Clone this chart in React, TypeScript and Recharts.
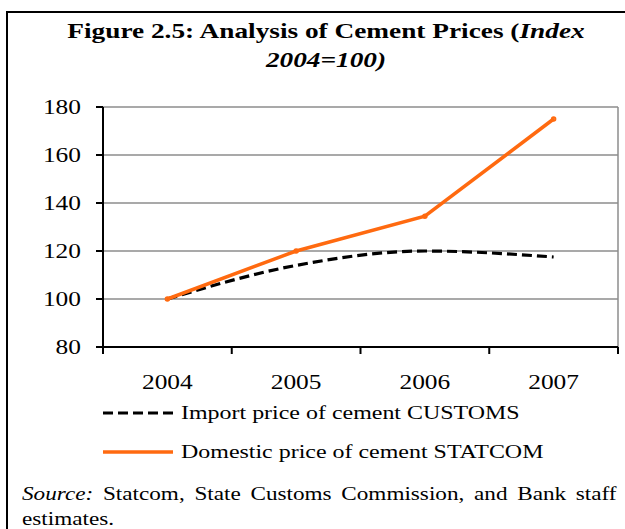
import { LineChart, Line, XAxis, YAxis, CartesianGrid } from "recharts";

const years = ["2004", "2005", "2006", "2007"];
const importPrice = [100, 114, 120, 117.5];
const domesticPrice = [100, 120, 134.5, 175];
const yTicks = [80, 100, 120, 140, 160, 180];

const data = years.map((year, i) => ({
  year,
  importPrice: importPrice[i],
  domesticPrice: domesticPrice[i],
}));

const FONT = '"Liberation Serif", "Times New Roman", serif';
const STRETCH = 1.27;

// the source image is stretched sideways, so labels get a horizontal scale around their anchor
const stretchAt = (x: number, y: number) =>
  `translate(${x},${y}) scale(${STRETCH},1) translate(${-x},${-y})`;

const YearTick = (props: any) => {
  const { x, y, payload, index, visibleTicksCount, width } = props;
  const half = width / visibleTicksCount / 2;
  const axisY = y - 8;
  return (
    <g>
      <line x1={x - half} x2={x - half} y1={axisY} y2={axisY + 7} stroke="#000" strokeWidth={2} />
      {index === visibleTicksCount - 1 && (
        <line x1={x + half} x2={x + half} y1={axisY} y2={axisY + 7} stroke="#000" strokeWidth={2} />
      )}
      <text
        x={x}
        y={y + 34}
        textAnchor="middle"
        fontFamily={FONT}
        fontSize={20}
        fill="#000"
        transform={stretchAt(x, y + 34)}
      >
        {payload.value}
      </text>
    </g>
  );
};

const ValueTick = (props: any) => {
  const { x, y, payload } = props;
  return (
    <text
      x={x}
      y={y + 7}
      textAnchor="end"
      fontFamily={FONT}
      fontSize={20}
      fill="#000"
      transform={stretchAt(x, y + 7)}
    >
      {payload.value}
    </text>
  );
};

const textStyle = (left: number, top: number, size: number, stretch: number): any => ({
  position: "absolute",
  left,
  top,
  fontSize: size,
  lineHeight: "24px",
  whiteSpace: "nowrap",
  transform: `scaleX(${stretch})`,
  transformOrigin: "0 0",
});

export default function App() {
  return (
    <div
      style={{
        position: "absolute",
        left: 0,
        top: 0,
        width: 625,
        height: 529,
        background: "#fff",
        overflow: "hidden",
        fontFamily: FONT,
        color: "#000",
      }}
    >
      <div
        style={{
          position: "absolute",
          left: 6,
          top: 11,
          width: 660,
          height: 580,
          border: "2px solid #000",
        }}
      />
      <div
        style={{
          position: "absolute",
          left: 6,
          top: 17,
          width: 640,
          textAlign: "center",
          fontWeight: "bold",
          fontSize: 21,
          lineHeight: "29px",
        }}
      >
        <div style={{ transform: "scaleX(1.3)", transformOrigin: "center" }}>
          Figure 2.5: Analysis of Cement Prices (<i>Index</i>
        </div>
        <div style={{ transform: "scaleX(1.3)", transformOrigin: "center" }}>
          <i>2004=100)</i>
        </div>
      </div>

      <div style={{ position: "absolute", left: 0, top: 0 }}>
        <LineChart
          width={625}
          height={400}
          data={data}
          margin={{ top: 107, right: 7, left: 0, bottom: 13 }}
        >
          <CartesianGrid
            horizontal={true}
            vertical={true}
            stroke="#8c8c8c"
            strokeWidth={1.5}
            verticalCoordinatesGenerator={({ offset }: any) => [offset.left + offset.width]}
          />
          <XAxis
            dataKey="year"
            scale="band"
            height={40}
            tickSize={6}
            tickMargin={2}
            tickLine={false}
            axisLine={{ stroke: "#000", strokeWidth: 2 }}
            tick={<YearTick />}
            interval={0}
          />
          <YAxis
            width={103}
            domain={[80, 180]}
            ticks={yTicks}
            interval={0}
            tickSize={7}
            tickMargin={15}
            axisLine={{ stroke: "#000", strokeWidth: 2 }}
            tickLine={{ stroke: "#000", strokeWidth: 2 }}
            tick={<ValueTick />}
          />
          <Line
            type="monotone"
            dataKey="importPrice"
            stroke="#000"
            strokeWidth={3.2}
            strokeDasharray="10 5"
            dot={false}
            isAnimationActive={false}
          />
          <Line
            type="linear"
            dataKey="domesticPrice"
            stroke="#ff6a10"
            strokeWidth={3.5}
            dot={{ r: 1, fill: "#ff6a10", stroke: "#ff6a10" }}
            isAnimationActive={false}
          />
        </LineChart>
      </div>

      <svg width={72} height={24} style={{ position: "absolute", left: 103, top: 401 }}>
        <line x1={0} x2={70} y1={12} y2={12} stroke="#000" strokeWidth={3.2} strokeDasharray="10 5" />
      </svg>
      <div style={textStyle(181, 401, 19, 1.26)}>Import price of cement CUSTOMS</div>

      <svg width={72} height={24} style={{ position: "absolute", left: 103, top: 440 }}>
        <line x1={0} x2={70} y1={12} y2={12} stroke="#ff6a10" strokeWidth={3.5} />
      </svg>
      <div style={textStyle(181, 440, 19, 1.26)}>Domestic price of cement STATCOM</div>

      <div style={{ ...textStyle(22, 482, 19, 1.22), wordSpacing: 3.2 }}>
        <i>Source:</i> Statcom, State Customs Commission, and Bank staff
      </div>
      <div style={textStyle(22, 507, 19, 1.22)}>estimates.</div>
    </div>
  );
}
